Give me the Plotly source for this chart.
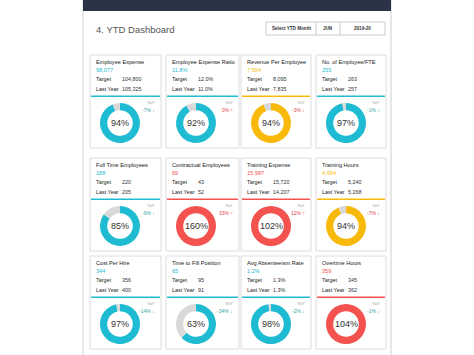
import plotly.graph_objects as go

W, H = 474, 355

titles = ["Employee Expense", "Employee Expense Ratio", "Revenue Per Employee", "No. of Employee/FTE",
          "Full Time Employees", "Contractual Employees", "Training Expense", "Training Hours",
          "Cost Per Hire", "Time to Fill Position", "Avg Absenteeism Rate", "Overtime Hours"]
actual = ["98,077", "11.8%", "7,594", "255", "188", "69", "15,987", "4,954", "344", "65", "1.2%", "359"]
target = ["104,800", "12.0%", "8,095", "263", "220", "43", "15,720", "5,240", "356", "95", "1.3%", "345"]
last_year = ["105,325", "11.0%", "7,835", "257", "205", "52", "14,207", "5,268", "400", "91", "1.3%", "362"]
pct = [94, 92, 94, 97, 85, 160, 102, 94, 97, 63, 98, 104]
status = ["good", "good", "warn", "good", "good", "bad", "bad", "warn", "good", "good", "good", "bad"]
yoy = [-7, 0, -3, -1, -9, 33, 12, -7, -14, -34, -2, -1]
yoy_status = ["good", "bad", "bad", "good", "good", "bad", "bad", "bad", "good", "good", "good", "good"]
month_label = "Select YTD Month"
month = "JUN"
year = "2019-20"

COL = {"good": "#1fbbd2", "warn": "#f9b90a", "bad": "#f4524f"}
YCOL = {"good": "#3aa7a0", "bad": "#e0474c"}
GREY = "#d9d9d9"
FONT = "Liberation Sans"


def px(x):
    return x / W


def py(y):
    return 1 - y / H


fig = go.Figure()
shapes = []
ann = []

# outer frame + header
shapes.append(dict(type="rect", xref="paper", yref="paper", x0=px(83), x1=px(391), y0=py(356), y1=py(0),
                   line=dict(color="#cfcfcf", width=1), fillcolor="white", layer="below"))
shapes.append(dict(type="rect", xref="paper", yref="paper", x0=px(83), x1=px(391), y0=py(11), y1=py(-1),
                   line=dict(width=0), fillcolor="#2b3446", layer="below"))
ann.append(dict(x=px(94), y=py(29), text="4. YTD Dashboard", showarrow=False, xanchor="left", yanchor="middle",
                font=dict(family=FONT, size=9.5, color="#555555")))

# select box
bx = [266, 316, 340, 385]
shapes.append(dict(type="rect", xref="paper", yref="paper", x0=px(bx[0]), x1=px(bx[3]), y0=py(35), y1=py(22),
                   line=dict(color="#cccccc", width=1), fillcolor="white", layer="below"))
for xx in bx[1:3]:
    shapes.append(dict(type="line", xref="paper", yref="paper", x0=px(xx), x1=px(xx), y0=py(35), y1=py(22),
                       line=dict(color="#cccccc", width=1)))
for i, t in enumerate([month_label, month, year]):
    ann.append(dict(x=px((bx[i] + bx[i + 1]) / 2), y=py(28.5), text="<b>" + t + "</b>", showarrow=False,
                    xanchor="center", yanchor="middle", font=dict(family=FONT, size=4.6, color="#333333")))

col_x = [90, 166, 241, 316]
col_w = [71, 73, 70, 70]
row_y = [55, 158, 256]
card_h = 93

for i in range(12):
    r, c = divmod(i, 4)
    x0, y0, w = col_x[c], row_y[r], col_w[c]
    color = COL[status[i]]
    shapes.append(dict(type="rect", xref="paper", yref="paper", x0=px(x0), x1=px(x0 + w), y0=py(y0 + card_h),
                       y1=py(y0), line=dict(color="#dcdcdc", width=1), fillcolor="white", layer="below"))
    shapes.append(dict(type="rect", xref="paper", yref="paper", x0=px(x0 + 1), x1=px(x0 + w - 1), y0=py(y0 + 42),
                       y1=py(y0 + 40.5), line=dict(width=0), fillcolor=color))
    ann.append(dict(x=px(x0 + 4), y=py(y0 + 7), text=titles[i], showarrow=False, xanchor="left",
                    yanchor="middle", font=dict(family=FONT, size=5.6, color="#1a1a1a")))
    ann.append(dict(x=px(x0 + 4), y=py(y0 + 15), text=actual[i], showarrow=False, xanchor="left",
                    yanchor="middle", font=dict(family=FONT, size=5.6, color=color)))
    for lbl, val, dy in (("Target", target[i], 24), ("Last Year", last_year[i], 34)):
        ann.append(dict(x=px(x0 + 4), y=py(y0 + dy), text=lbl, showarrow=False, xanchor="left",
                        yanchor="middle", font=dict(family=FONT, size=5.4, color="#222222")))
        ann.append(dict(x=px(x0 + 30), y=py(y0 + dy), text=val, showarrow=False, xanchor="left",
                        yanchor="middle", font=dict(family=FONT, size=5.4, color="#333333")))
    ann.append(dict(x=px(x0 + w - 4), y=py(y0 + 47), text="YoY", showarrow=False, xanchor="right",
                    yanchor="middle", font=dict(family=FONT, size=4.3, color="#9a9a9a")))
    arrow = "↓" if yoy[i] < 0 else "↑"
    ann.append(dict(x=px(x0 + w - 4), y=py(y0 + 55), text=f"{yoy[i]}% {arrow}", showarrow=False, xanchor="right",
                    yanchor="middle", font=dict(family=FONT, size=5, color=YCOL[yoy_status[i]])))
    # donut
    cx, cy, R = x0 + 30, y0 + 68, 20
    p = pct[i]
    fig.add_trace(go.Pie(values=[min(p, 100), max(100 - p, 0)], marker=dict(colors=[color, GREY], line=dict(width=0)),
                         hole=0.64, sort=False, direction="clockwise", rotation=0, textinfo="none",
                         hoverinfo="skip", showlegend=False,
                         domain=dict(x=[px(cx - R), px(cx + R)], y=[py(cy + R), py(cy - R)])))
    ann.append(dict(x=px(cx), y=py(cy), text=f"{p}%", showarrow=False, xanchor="center", yanchor="middle",
                    font=dict(family=FONT, size=9, color="#333333")))

fig.update_layout(width=W, height=H, margin=dict(l=0, r=0, t=0, b=0), paper_bgcolor="white",
                  plot_bgcolor="white", shapes=shapes, annotations=ann)
fig.write_html("out.html", config={"displayModeBar": False},
               post_script="document.body.style.margin='0';document.body.style.overflow='hidden';")
